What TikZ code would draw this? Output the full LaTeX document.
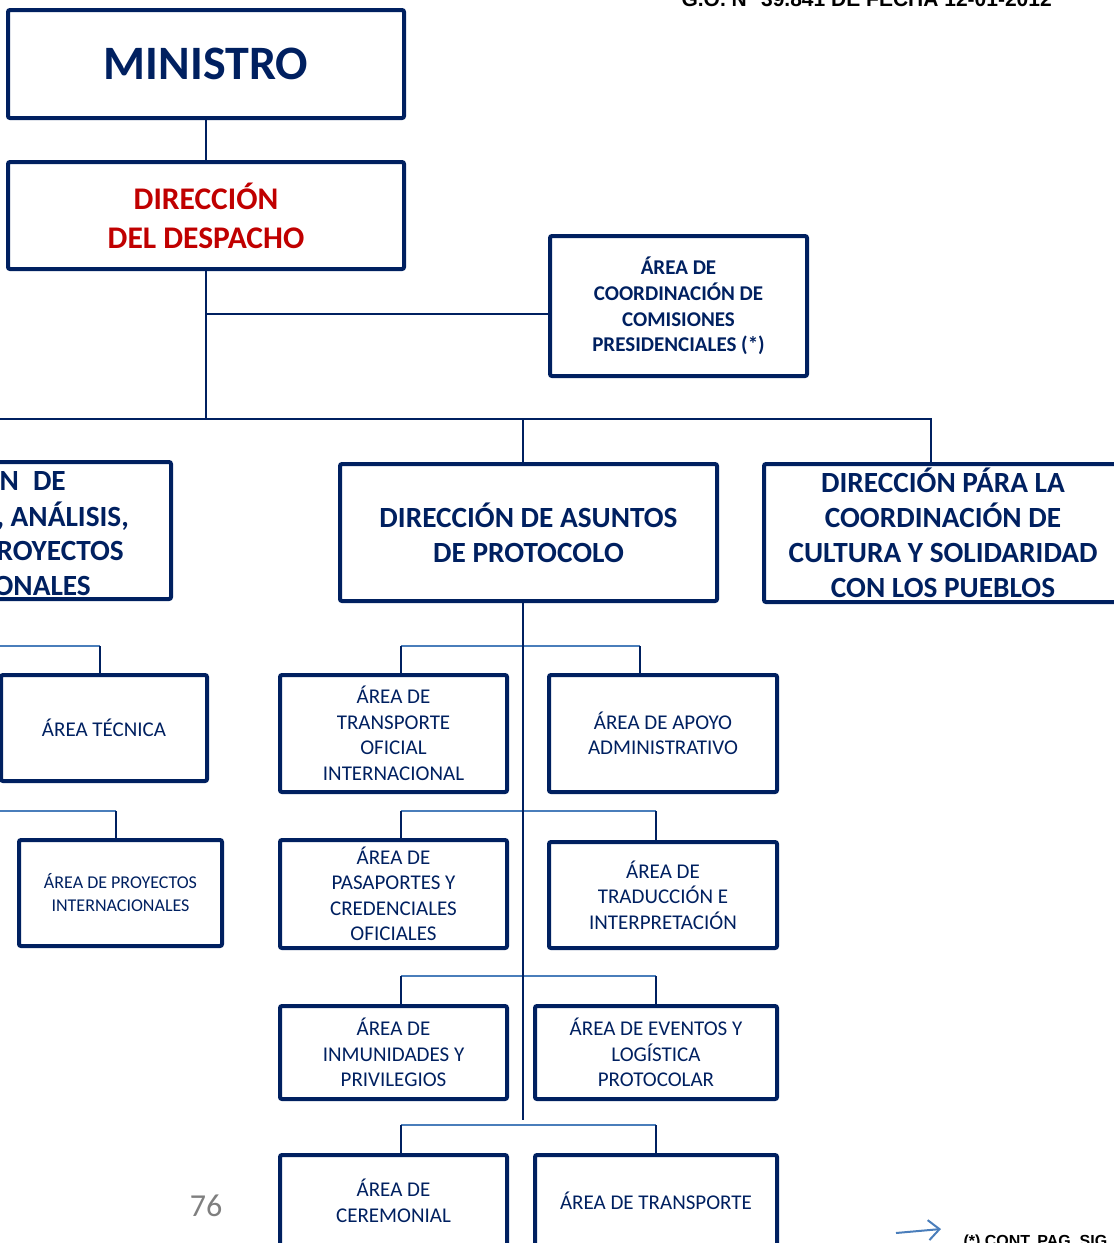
\documentclass[tikz,border=0pt]{standalone}
\usepackage{fontspec}
\usepackage{tikz}
\usepackage{xcolor}
\usetikzlibrary{arrows.meta}
\setmainfont{Carlito}
\newfontfamily\arialfont{Liberation Sans}
\definecolor{navy}{HTML}{002060}
\definecolor{despacho-red}{HTML}{C00000}
\definecolor{bar-blue}{HTML}{4A7EBB}
\definecolor{page-gray}{HTML}{7F7F7F}
\tikzset{
    unit-box/.style = {draw=navy, line width=4pt, rounded corners=2pt, align=center, text=navy, inner sep=0pt},
    big-box/.style = {unit-box, font=\bfseries\fontsize{29.3}{35}\selectfont},
    area-box/.style = {unit-box, font=\fontsize{21}{25.5}\selectfont},
    link/.style = {draw=navy, line width=2pt},
    area-bar/.style = {draw=bar-blue, line width=2pt},
}

\begin{document}
\begin{tikzpicture}[x=1pt, y=-1pt]
\useasboundingbox (0,0) rectangle (1114,1243);
\clip (0,0) rectangle (1114,1243);

% header and footer
\node[anchor=base west, font=\arialfont\bfseries\fontsize{21}{21}\selectfont] (gaceta) at (678,6) {G.O. N° 39.841 DE FECHA 12-01-2012};
\node[anchor=base west, font=\arialfont\bfseries\fontsize{16}{16}\selectfont] (contpag) at (960,1246) {(*) CONT. PAG. SIG.};
\node[text=page-gray, font=\fontsize{32}{32}\selectfont] (pagenum) at (206,1206) {76};

% top levels
\node[unit-box, minimum width=396pt, minimum height=108pt, font=\bfseries\fontsize{48}{48}\selectfont] (ministro) at (206,64) {MINISTRO};
\node[unit-box, minimum width=396pt, minimum height=107pt, text=despacho-red, font=\bfseries\fontsize{31.5}{39}\selectfont] (despacho) at (206,215.5) {DIRECCIÓN\\DEL DESPACHO};
\node[unit-box, minimum width=257pt, minimum height=140pt, font=\bfseries\fontsize{21}{25.7}\selectfont] (comisiones) at (678.5,306) {ÁREA DE\\COORDINACIÓN DE\\COMISIONES\\PRESIDENCIALES (*)};

\node[unit-box, minimum width=181pt, minimum height=137pt] (planif) at (80.5,530.5) {};
\foreach \txt/\xe/\yy in {N\hspace{14pt}DE/66/481, {, ANÁLISIS,}/129/516, ROYECTOS/124/551, ONALES/91/586}
    \node[anchor=east, inner sep=0pt, text=navy, font=\bfseries\fontsize{29.3}{35}\selectfont] at (\xe,\yy) {\txt};
\node[big-box, minimum width=377pt, minimum height=137pt] (protocolo) at (528.5,532.5) {DIRECCIÓN DE ASUNTOS\\DE PROTOCOLO};
\node[big-box, minimum width=358pt, minimum height=138pt] (cultura) at (943,533) {DIRECCIÓN PÁRA LA\\COORDINACIÓN DE\\CULTURA Y SOLIDARIDAD\\CON LOS PUEBLOS};

% areas
\node[area-box, minimum width=206pt, minimum height=106pt] (tecnica) at (104,728) {ÁREA TÉCNICA};
\node[area-box, minimum width=203pt, minimum height=106pt, font=\fontsize{18}{23}\selectfont] (proyectos) at (120.5,893) {ÁREA DE PROYECTOS\\INTERNACIONALES};
\node[area-box, minimum width=227pt, minimum height=117pt] (transof) at (393.5,733.5) {ÁREA DE\\TRANSPORTE\\OFICIAL\\INTERNACIONAL};
\node[area-box, minimum width=228pt, minimum height=117pt] (apoyo) at (663,733.5) {ÁREA DE APOYO\\ADMINISTRATIVO};
\node[area-box, minimum width=227pt, minimum height=108pt] (pasap) at (393.5,894) {ÁREA DE\\PASAPORTES Y\\CREDENCIALES\\OFICIALES};
\node[area-box, minimum width=228pt, minimum height=106pt] (traduc) at (663,895) {ÁREA DE\\TRADUCCIÓN E\\INTERPRETACIÓN};
\node[area-box, minimum width=227pt, minimum height=93pt] (inmun) at (393.5,1052.5) {ÁREA DE\\INMUNIDADES Y\\PRIVILEGIOS};
\node[area-box, minimum width=242pt, minimum height=93pt] (eventos) at (656,1052.5) {ÁREA DE EVENTOS Y\\LOGÍSTICA\\PROTOCOLAR};
\node[area-box, minimum width=227pt, minimum height=92pt] (ceremon) at (393.5,1201) {ÁREA DE\\CEREMONIAL};
\node[area-box, minimum width=242pt, minimum height=92pt] (transpt) at (656,1201) {ÁREA DE TRANSPORTE};

% connectors
\coordinate (topbar) at (206,419);
\coordinate (barwest) at (0,419);
\coordinate (bareast) at (931,419);
\coordinate (spinetop) at (523,419);
\coordinate (spinebot) at (523,1120);
\coordinate (comlink) at ([yshift=-8pt]comisiones.west);
\draw[link] (ministro) -- (despacho);
\draw[link] (despacho.south) -- (topbar);
\draw[link] (comlink) -- (comlink -| topbar);
\draw[link] (barwest) -- (bareast) -- (bareast |- cultura.north);
\draw[link] (spinetop) -- (spinetop |- protocolo.north);

\coordinate (tecbar) at (100,646);
\coordinate (proybar) at (116,811);
\draw[area-bar] (tecbar -| barwest) -- (tecbar);
\draw[link] (tecbar) -- (tecbar |- tecnica.north);
\draw[area-bar] (proybar -| barwest) -- (proybar);
\draw[link] (proybar) -- (proybar |- proyectos.north);

\foreach \l/\r/\yb/\xr in {transof/apoyo/646/640, pasap/traduc/811/656, inmun/eventos/976/656, ceremon/transpt/1125/656}{
    \draw[area-bar] (401,\yb) -- (\xr,\yb);
    \draw[link] (401,\yb) -- (401,\yb |- \l.north);
    \draw[link] (\xr,\yb) -- (\xr,\yb |- \r.north);
}
\draw[link] (spinetop |- protocolo.south) -- (spinebot);

\coordinate (arrowtail) at (896,1233);
\coordinate (arrowtip) at (941,1229);
\draw[bar-blue, line width=2pt, -{Straight Barb[length=11pt,width=20pt]}] (arrowtail) -- (arrowtip);
\end{tikzpicture}
\end{document}
